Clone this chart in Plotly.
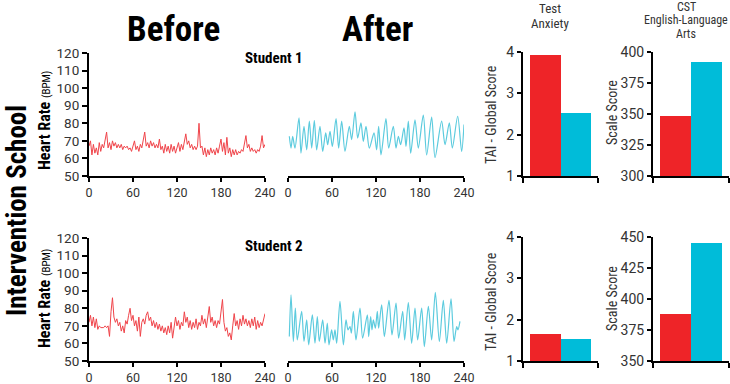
import plotly.graph_objects as go

# ---------------- data ----------------
BEFORE_T = list(range(0, 241, 2))
BEFORE_S1 = [67, 70, 62, 68, 63, 66, 62, 69, 64, 68, 66, 70, 75, 66, 69, 65, 70, 67, 69, 66,
             68, 66, 68, 65, 67, 66, 67, 65, 66, 64, 68, 70, 65, 67, 64, 68, 66, 70, 75, 67,
             69, 66, 70, 67, 69, 66, 68, 66, 71, 65, 67, 63, 68, 64, 67, 63, 68, 64, 67, 63,
             66, 69, 64, 68, 65, 70, 74, 68, 70, 66, 68, 65, 67, 65, 67, 80, 66, 67, 62, 66,
             61, 65, 62, 66, 63, 65, 62, 66, 63, 67, 71, 64, 69, 62, 72, 63, 66, 61, 65, 62,
             65, 62, 64, 63, 65, 64, 68, 73, 66, 68, 64, 66, 64, 65, 63, 65, 64, 67, 73, 66, 68]
BEFORE_S2 = [72, 76, 70, 75, 69, 74, 68, 70, 69, 69, 69, 70, 69, 70, 64, 78, 86, 75, 72, 74,
             70, 72, 67, 70, 66, 73, 71, 76, 80, 73, 76, 70, 73, 67, 75, 64, 72, 74, 71, 76,
             78, 73, 75, 70, 73, 69, 72, 68, 71, 67, 70, 66, 69, 65, 70, 66, 72, 63, 69, 75,
             70, 73, 68, 72, 70, 78, 72, 75, 69, 73, 68, 72, 69, 74, 68, 72, 70, 76, 71, 74,
             69, 76, 81, 72, 75, 70, 73, 69, 73, 71, 80, 85, 72, 67, 69, 64, 66, 62, 70, 77,
             70, 73, 68, 74, 70, 76, 71, 74, 70, 73, 69, 74, 70, 75, 68, 73, 69, 72, 70, 74, 77]

AFTER_S1_T = [1.8, 4.1, 6.4, 9.5, 15, 17.7, 21.8, 25.5, 29.1, 32.3, 35.9, 39.1, 43.6, 47.3,
              51.4, 54.1, 57.3, 60.5, 65.5, 69.1, 73.2, 77.7, 83.6, 86.8, 91.4, 95, 99.5,
              102.7, 106.4, 110.9, 117.3, 120.9, 123.6, 126.8, 133.6, 137.3, 143.6, 147.3,
              150.5, 153.6, 158.2, 160.9, 164.1, 167.3, 173.2, 177.7, 184.5, 189.1, 195.9,
              200.5, 209.5, 214.1, 220, 224.1, 231.4, 236.8, 240]
AFTER_S1 = [72.6, 65.9, 72.6, 65.9, 83.1, 63.0, 78.3, 64.9, 81.2, 65.9, 81.6, 64.9, 78.3, 64.0,
            74.5, 67.8, 75.4, 66.8, 82.7, 65.9, 81.2, 64.0, 78.3, 70.7, 86.5, 71.6, 80.2,
            69.7, 78.3, 65.9, 74.5, 64.9, 78.3, 62.0, 82.7, 65.9, 78.3, 65.9, 72.6, 67.8,
            77.4, 66.8, 81.2, 63.0, 82.0, 65.9, 84.6, 62.0, 83.5, 60.5, 81.2, 67.8, 80.2,
            65.9, 84.0, 64.0, 79.3]

AFTER_S2_T = [1.8, 4.1, 7.3, 10, 12.7, 18.6, 21.8, 25.5, 28.2, 33.2, 36.8, 40, 42.7, 47.3,
              50.5, 53.6, 55.9, 59.5, 61.8, 64.1, 66.4, 70.9, 75.5, 79.1, 81.8, 84.5, 86.4,
              89.1, 92.7, 98.2, 101.8, 108.2, 110, 112.7, 114.5, 116.4, 119.1, 121.8, 123.6,
              127.7, 131.4, 137.7, 141.8, 147.3, 150.9, 156.4, 159.1, 164.1, 168.6, 173.2,
              176.8, 182.3, 185.9, 191.4, 195.9, 200.9, 206.4, 211.8, 216.4, 222.3, 226.4,
              230, 231.8, 234.5]
AFTER_S2 = [63.9, 87.7, 61.1, 80.1, 62.0, 78.2, 61.1, 73.4, 59.2, 76.3, 60.1, 75.3, 61.1, 73.4,
            60.1, 71.5, 59.2, 67.7, 62.0, 67.7, 60.1, 83.9, 59.2, 73.4, 67.7, 69.6, 65.8,
            78.2, 62.0, 80.1, 63.0, 76.3, 63.9, 75.3, 67.7, 73.4, 68.7, 78.2, 68.7, 82.0,
            63.9, 84.5, 64.9, 83.0, 63.0, 78.2, 62.0, 83.3, 60.1, 80.1, 62.0, 80.1, 58.2,
            81.1, 62.0, 89.1, 61.1, 84.5, 60.1, 85.4, 61.1, 69.6, 67.7, 72.5]

GROUPS = ["Before", "After"]
TAI_S1 = [3.92, 2.52]
CST_S1 = [348, 392]
TAI_S2 = [1.65, 1.53]
CST_S2 = [388, 445]

HR_TICKS = [50, 60, 70, 80, 90, 100, 110, 120]
TIME_TICKS = [0, 60, 120, 180, 240]
TAI_TICKS = [1, 2, 3, 4]
CST1_TICKS = [300, 325, 350, 375, 400]
CST2_TICKS = [350, 375, 400, 425, 450]

TAI_TITLE = ["Test", "Anxiety"]
CST_TITLE = ["CST", "English-Language", "Arts"]

# ---------------- style ----------------
RED = "#ee2428"
BLUE = "#00bcd9"
RED_LINE = "#f0444a"
BLUE_LINE = "#5ccbde"
TXT = "#333333"
ROBOTO = "Roboto, Arial, sans-serif"
COND = "Roboto Condensed, Liberation Sans Narrow, DejaVu Sans Condensed, Roboto, sans-serif"

W, H = 730, 384


def px(x):
    return x / W


def py(y):
    return 1 - y / H


fig = go.Figure()

# line traces
fig.add_trace(go.Scatter(x=BEFORE_T, y=BEFORE_S1, mode="lines", line=dict(color=RED_LINE, width=1),
                         xaxis="x", yaxis="y", showlegend=False))
fig.add_trace(go.Scatter(x=AFTER_S1_T, y=AFTER_S1, mode="lines", line=dict(color=BLUE_LINE, width=1.2, shape="spline", smoothing=0.8),
                         xaxis="x2", yaxis="y2", showlegend=False))
fig.add_trace(go.Scatter(x=BEFORE_T, y=BEFORE_S2, mode="lines", line=dict(color=RED_LINE, width=1),
                         xaxis="x3", yaxis="y3", showlegend=False))
fig.add_trace(go.Scatter(x=AFTER_S2_T, y=AFTER_S2, mode="lines", line=dict(color=BLUE_LINE, width=1.2, shape="spline", smoothing=0.8),
                         xaxis="x4", yaxis="y4", showlegend=False))

# bar traces
for vals, xa, ya in [(TAI_S1, "x5", "y5"), (CST_S1, "x6", "y6"), (TAI_S2, "x7", "y7"), (CST_S2, "x8", "y8")]:
    fig.add_trace(go.Bar(x=[0, 1], y=vals, width=1, marker=dict(color=[RED, BLUE], line=dict(width=0)),
                         xaxis=xa, yaxis=ya, showlegend=False, customdata=GROUPS))

row1 = [py(176), py(53)]
row2 = [py(361), py(238)]
bar1 = [py(176), py(52)]
bar2 = [py(361), py(237)]

axis_common = dict(showline=True, linecolor="black", linewidth=2, ticks="outside", ticklen=5,
                   tickwidth=1.5, tickcolor="black", showgrid=False, zeroline=False,
                   automargin=False)

BR = [-0.73, 1.73]

layout_axes = {}
# Line plots
for i, (xd, yd, showy) in enumerate([
        ((89, 265), row1, True), ((288, 464), row1, False),
        ((89, 265), row2, True), ((288, 464), row2, False)]):
    n = i + 1
    xs = "" if n == 1 else str(n)
    layout_axes["xaxis" + xs] = dict(axis_common, domain=[px(xd[0]), px(xd[1])], range=[0, 240],
                                     tickvals=TIME_TICKS, anchor="y" + xs, ticklen=4,
                                     tickfont=dict(family=ROBOTO, size=12.5, color=TXT))
    ya = dict(axis_common, domain=yd, range=[50, 120], tickvals=HR_TICKS, anchor="x" + xs,
              tickfont=dict(family=ROBOTO, size=13.5, color=TXT))
    if not showy:
        ya.update(visible=False)
    layout_axes["yaxis" + xs] = ya

# Bar plots
for n, xd, yd, rng, tv in [
        (5, (523, 598), bar1, [1, 4], TAI_TICKS),
        (6, (653, 729), bar1, [300, 400], CST1_TICKS),
        (7, (523, 598), bar2, [1, 4], TAI_TICKS),
        (8, (653, 729), bar2, [350, 450], CST2_TICKS)]:
    layout_axes["xaxis%d" % n] = dict(axis_common, domain=[px(xd[0]), px(xd[1])], range=BR,
                                      tickvals=BR, ticktext=["", ""], anchor="y%d" % n)
    layout_axes["yaxis%d" % n] = dict(axis_common, domain=yd, range=rng, tickvals=tv, anchor="x%d" % n,
                                      ticklen=4, tickfont=dict(family=ROBOTO, size=14, color=TXT))

annotations = []


def ann(text, x, y, size, family, color="black", angle=0, **kw):
    annotations.append(dict(text=text, x=px(x), y=py(y), xref="paper", yref="paper", showarrow=False,
                            font=dict(size=size, family=family, color=color), textangle=angle,
                            xanchor="center", yanchor="middle", **kw))


ann("<b>Before</b>", 173, 29, 35, COND)
ann("<b>After</b>", 377, 29, 35, COND)
ann("<b>Student 1</b>", 274, 58, 15, COND)
ann("<b>Student 2</b>", 274, 246, 15, COND)
ann("<b>Intervention School</b>", 17, 211, 27, COND, angle=-90)
hr = "<b>Heart Rate</b> <span style='font-size:11px'>(BPM)</span>"
ann(hr, 44, 121, 16, COND, angle=-90)
ann(hr, 44, 299, 16, COND, angle=-90)
for txt, yy in zip(TAI_TITLE, [8, 23]):
    ann(txt, 550, yy, 13, COND, color=TXT)
for txt, yy in zip(CST_TITLE, [6.5, 20.5, 34]):
    ann(txt, 686, yy, 12, COND, color=TXT)
# bar axis titles
for ttl, x, y in [("TAI - Global Score", 491, 114), ("Scale Score", 612, 113),
                  ("TAI - Global Score", 491, 301), ("Scale Score", 612, 299)]:
    ann(ttl, x, y, 14, COND, color=TXT, angle=-90)

fig.update_layout(template="none", width=W, height=H, margin=dict(l=0, r=0, t=0, b=0),
                  paper_bgcolor="white", plot_bgcolor="white", bargap=0,
                  annotations=annotations, **layout_axes)

fig.write_html("out.html", config={"displayModeBar": False},
               post_script="document.body.style.margin='0';document.body.style.padding='0';")
